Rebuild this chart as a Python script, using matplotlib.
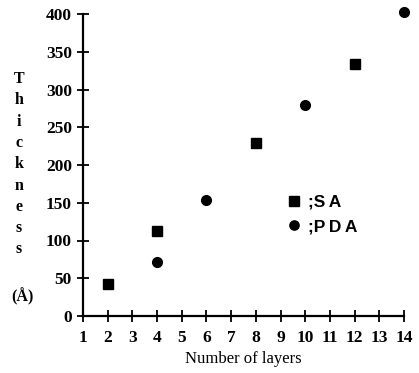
import matplotlib
matplotlib.use("Agg")
import matplotlib.pyplot as plt

sa_layers = [2, 4, 8, 12]
sa_thickness = [42, 112, 229, 334]
pda_layers = [4, 6, 10, 14]
pda_thickness = [71, 154, 279, 402]

x_ticks = list(range(1, 15))
y_ticks = [0, 50, 100, 150, 200, 250, 300, 350, 400]
ylabel_letters = ["T", "h", "i", "c", "k", "n", "e", "s", "s"]
legend_labels = [";S\u2009A", ";P\u2009D\u2009A"]

fig = plt.figure(figsize=(4.19, 3.73), dpi=100)
ax = fig.add_axes([83/419, 1-316/373, (404-83)/419, (316-14)/373])

ax.plot(sa_layers, sa_thickness, linestyle="none", marker="s", color="black",
        markersize=7.5, label=legend_labels[0], clip_on=False)
ax.plot(pda_layers, pda_thickness, linestyle="none", marker="o", color="black",
        markersize=7, label=legend_labels[1], clip_on=False)

ax.set_xlim(1, 14)
ax.set_ylim(0, 400)
ax.set_xticks(x_ticks)
ax.set_yticks(y_ticks)
for s in ["top", "right"]:
    ax.spines[s].set_visible(False)
for s in ["left", "bottom"]:
    ax.spines[s].set_linewidth(1.6)
ax.tick_params(direction="inout", length=8, width=1.3)
ax.tick_params(axis="x", pad=6)
ax.tick_params(axis="y", pad=4)
for lab in ax.get_xticklabels() + ax.get_yticklabels():
    lab.set_fontfamily("Liberation Serif")
    lab.set_fontweight("bold")
    lab.set_fontsize(12.5)

ax.set_xlabel("Number of layers", fontfamily="Liberation Serif", fontsize=12, labelpad=4)

y0 = 79
for i, ch in enumerate(ylabel_letters):
    fig.text(19/419, 1 - (y0 + i*21.3)/373, ch, ha="center", va="center",
             fontfamily="Liberation Serif", fontweight="bold", fontsize=11.5)
fig.text(22/419, 1 - 297/373, "(Å)", ha="center", va="center",
         fontfamily="Liberation Serif", fontweight="bold", fontsize=11.5)

leg = ax.legend(loc="center left", bbox_to_anchor=(0.618, 0.336), frameon=False,
                handlelength=0.5, handletextpad=0.55, labelspacing=0.55,
                markerscale=0.95,
                prop={"family": "Liberation Sans", "weight": "bold", "size": 12.5},
                borderpad=0)

fig.savefig("out.png", dpi=100)
